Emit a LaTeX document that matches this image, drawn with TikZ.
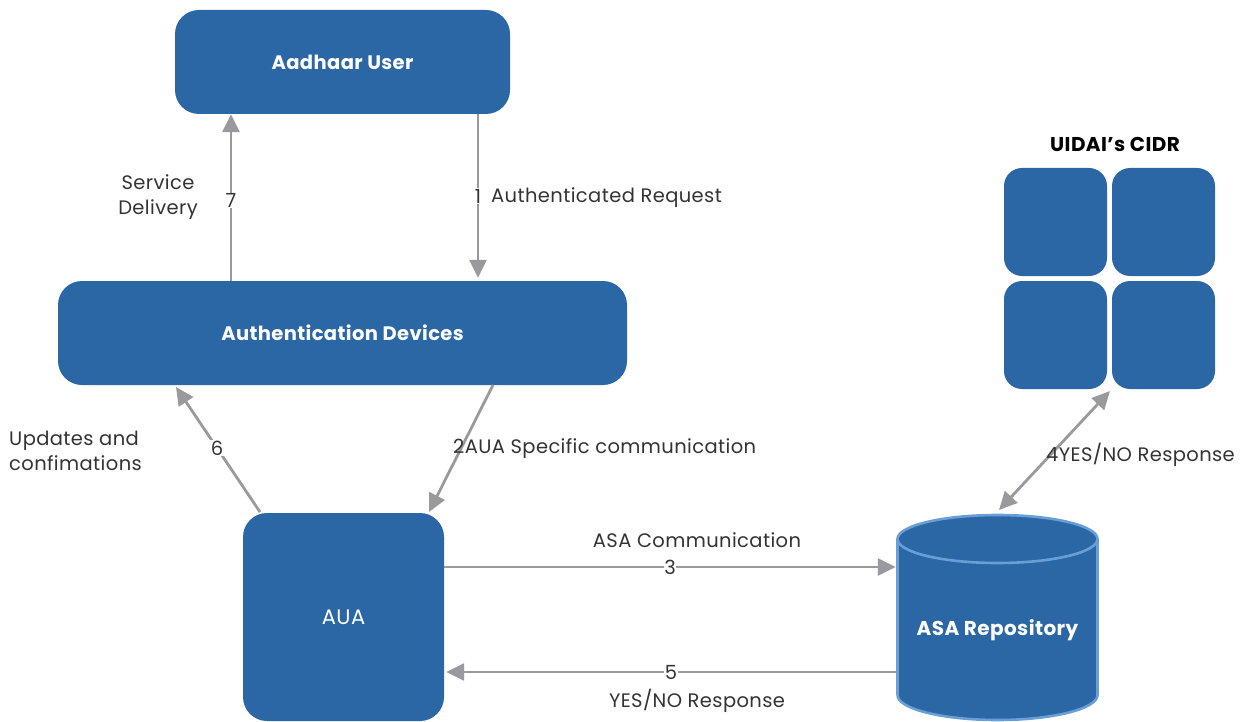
\documentclass[tikz,border=0pt]{standalone}
\usepackage{fontspec}
\setmainfont{Poppins}[LetterSpace=2]
\usetikzlibrary{arrows.meta,calc}
\definecolor{boxblue}{HTML}{2C67A5}
\definecolor{rimblue}{HTML}{6A9FD6}
\definecolor{arrowgray}{HTML}{9A9A9E}
\definecolor{txtgray}{HTML}{333333}
\tikzset{
  box/.style={fill=boxblue, draw=none, rounded corners=24pt, text=white, font=\fontsize{19.5}{20}\selectfont\bfseries},
  sq/.style={fill=boxblue, draw=none, rounded corners=18pt, minimum width=103pt, minimum height=108pt},
  conn/.style={draw=arrowgray, line width=2.8pt, -{Triangle[length=18pt,width=17pt]}},
  lbl/.style={text=txtgray, font=\fontsize{19.5}{25}\selectfont, inner sep=1pt},
  num/.style={lbl, fill=white, inner sep=0.5pt},
}
\begin{document}
\begin{tikzpicture}[x=1pt,y=-1pt]
\useasboundingbox (0,0) rectangle (1255,722);
% nodes
\node[box, minimum width=335pt, minimum height=104pt] (user) at (342.5,62) {Aadhaar User};
\node[box, minimum width=569pt, minimum height=104pt] (dev) at (342.5,333) {Authentication Devices};
\node[box, minimum width=201pt, minimum height=208pt, font=\fontsize{21}{21}\selectfont] (aua) at (343.5,617) {AUA};
% CIDR
\node[font=\fontsize{20}{20}\selectfont\bfseries, text=black] (cidrt) at (1115,144) {UIDAI’s CIDR};
\node[sq] (s1) at (1055.5,222) {};
\node[sq] (s2) at (1163.5,222) {};
\node[sq] (s3) at (1055.5,335) {};
\node[sq] (s4) at (1163.5,335) {};
\node[inner sep=0, minimum width=218pt, minimum height=221pt] (cidr) at (1109.5,278.5) {};
% cylinder
\fill[boxblue] (897.5,539) -- (897.5,695) arc[start angle=180, end angle=0, x radius=100, y radius=25] -- (1097.5,539) arc[start angle=0, end angle=-180, x radius=100, y radius=24] -- cycle;
\draw[rimblue, line width=2.6pt] (897.5,539) -- (897.5,695) arc[start angle=180, end angle=0, x radius=100, y radius=25] -- (1097.5,539);
\draw[rimblue, line width=2.6pt] (997.5,539) ellipse[x radius=100, y radius=24];
\node[inner sep=0, minimum width=203pt, minimum height=206pt] (repo) at (997.5,617) {};
\node[text=white, font=\fontsize{20}{20}\selectfont\bfseries] (repot) at (997.5,630) {ASA Repository};
% connectors
\coordinate (u7) at (231,114);
\coordinate (d7) at (231,281);
\draw[conn] (dev.north -| d7) -- (user.south -| u7) node[num, pos=0.48] (n7) {7};
\coordinate (u1) at (478,114);
\draw[conn] (user.south -| u1) -- ([yshift=3pt]dev.north -| u1) node[num, pos=0.5] (n1) {1};
\coordinate (d2) at (493,385);
\coordinate (a2) at (429,512);
\draw[conn] (d2) -- (a2);
\coordinate (a6) at (260,512);
\coordinate (d6) at (176,387);
\draw[conn] (a6) -- (d6);
\coordinate (c3) at (0,567);
\draw[conn] (aua.east |- c3) -- (repo.west |- c3) node[num, pos=0.5] (n3) {3};
\coordinate (c5) at (0,672);
\draw[conn] (repo.west |- c5) -- ([xshift=2pt]aua.east |- c5) node[num, pos=0.5] (n5) {5};
\coordinate (r4) at (999,510);
\coordinate (q4) at (1110,391);
\draw[conn, {Triangle[length=18pt,width=17pt]}-{Triangle[length=18pt,width=17pt]}] (r4) -- (q4);
% labels
\node[lbl, align=center] (svc) at (158,197) {Service\\Delivery};
\node[lbl, anchor=west] (l1) at (490,198) {Authenticated Request};
\node[lbl, anchor=west] (l2) at (452,449) {2AUA Specific communication};
\node[num] (l6n) at (217,448) {6};
\node[lbl, align=left, anchor=west] (l6) at (8,451) {Updates and\\confimations};
\node[lbl] (l3) at (697,540) {ASA Communication};
\node[lbl] (l5) at (697,701) {YES/NO Response};
\node[lbl, anchor=west] (l4) at (1045,455) {4YES/NO Response};
\end{tikzpicture}
\end{document}
